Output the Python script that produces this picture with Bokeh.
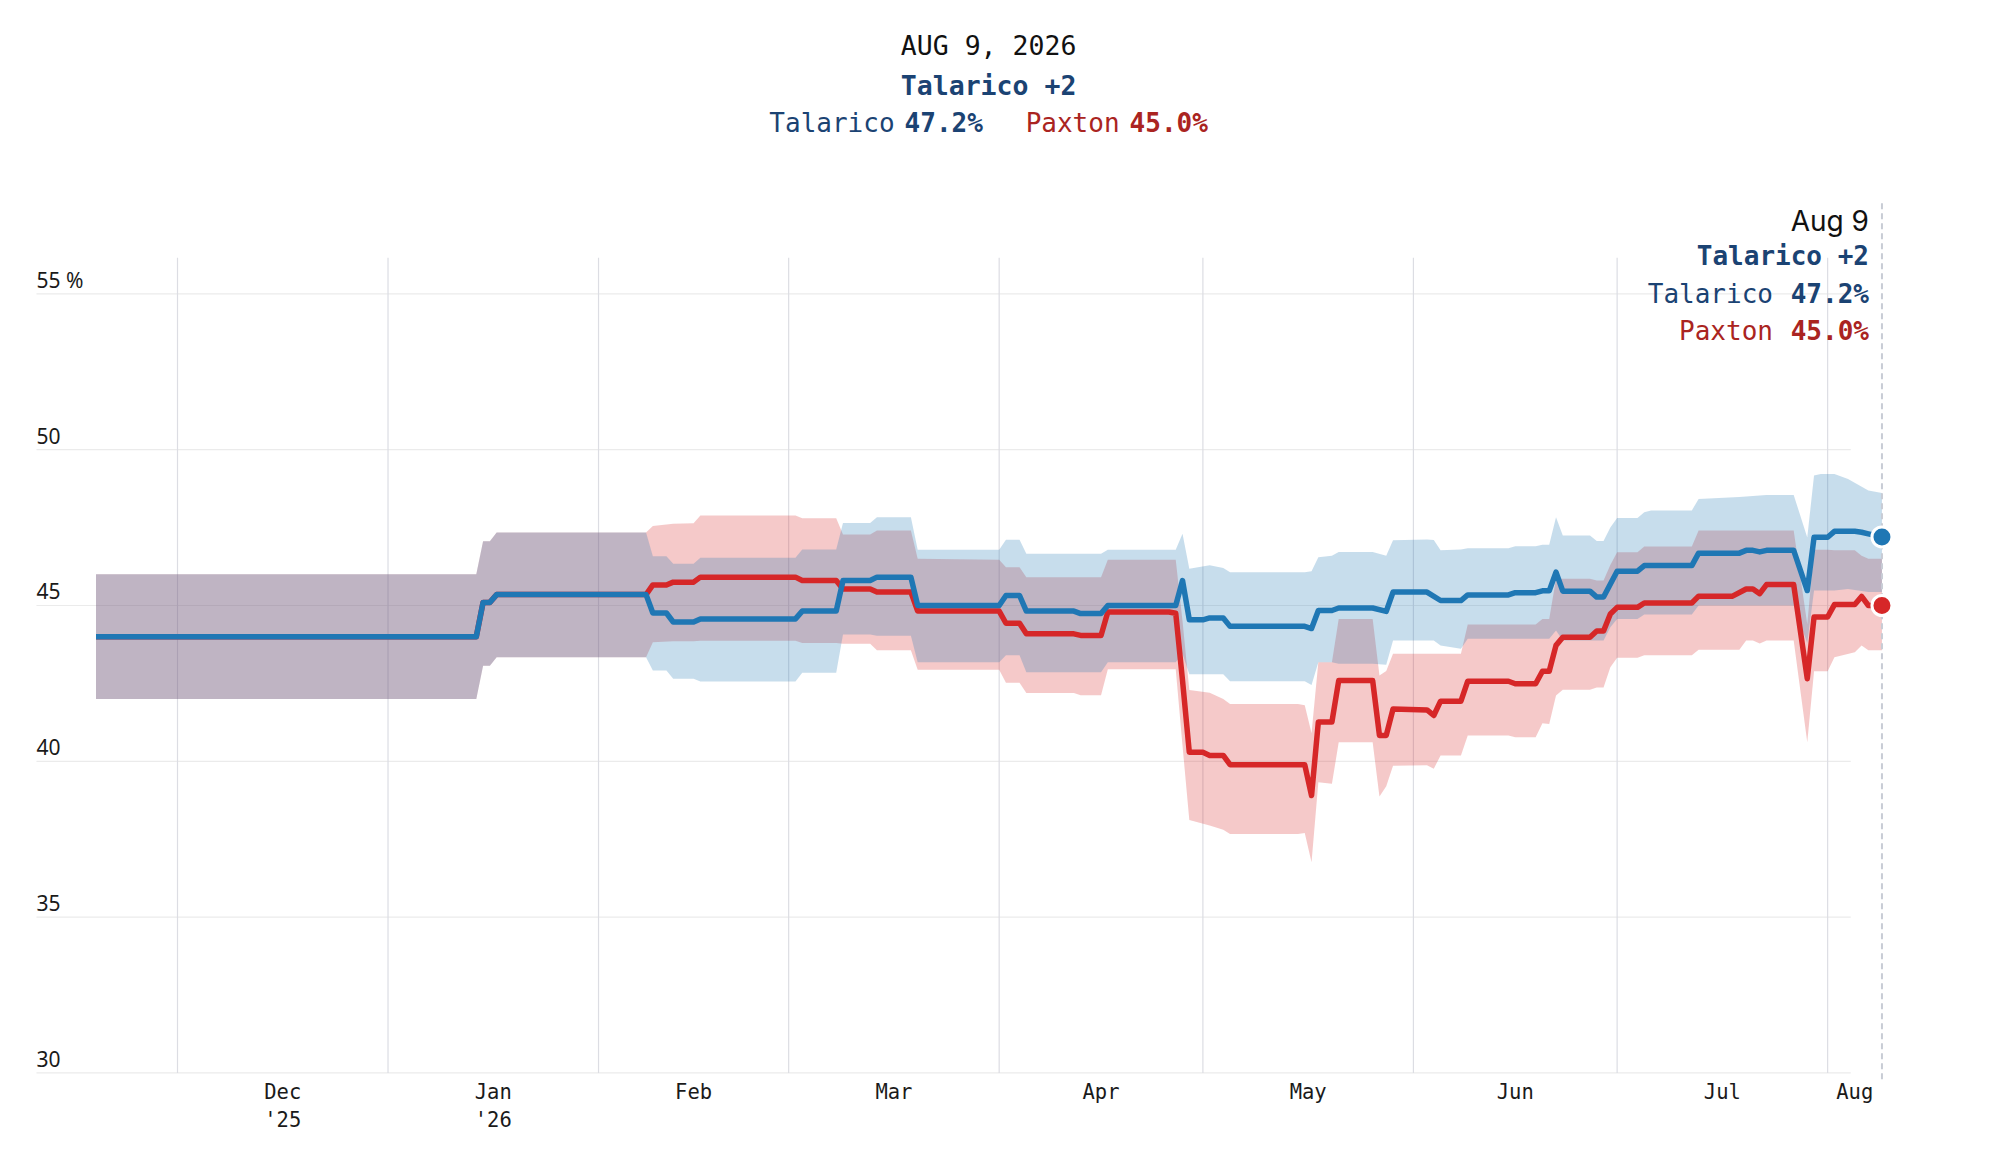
import pandas as pd
from bokeh.plotting import figure
from bokeh.models import Range1d, FixedTicker
from bokeh.core.properties import value
from bokeh.embed import file_html
from bokeh.resources import INLINE

# ---------------- data (day numbers counted from 2026-01-01) ----------------
BASE_DATE = "2026-01-01"
cand_names = ["Talarico", "Paxton"]

tal_day = [-43, 13, 14, 15, 16, 38, 39, 41, 42, 45, 46, 60, 61, 66, 67, 71, 72, 77, 78, 90,
           91, 93, 94, 101, 102, 105, 106, 116, 117, 118, 120, 121, 123, 124, 135, 136, 137,
           139, 140, 145, 147, 148, 153, 155, 158, 159, 165, 166, 169, 170, 171, 172, 173,
           177, 178, 179, 181, 184, 185, 192, 193, 199, 200, 201, 202, 203, 207, 209, 210,
           212, 213, 216, 217, 218, 219, 220]
tal_val = [44.0, 44.0, 45.1, 45.1, 45.35, 45.35, 44.76, 44.76, 44.47, 44.47, 44.57, 44.57,
           44.82, 44.82, 45.80, 45.80, 45.91, 45.91, 45.0, 45.0, 45.32, 45.32, 44.82, 44.82,
           44.74, 44.74, 45.0, 45.0, 45.8, 44.54, 44.54, 44.6, 44.6, 44.33, 44.33, 44.26,
           44.84, 44.84, 44.92, 44.92, 44.81, 45.43, 45.43, 45.16, 45.16, 45.34, 45.34, 45.41,
           45.41, 45.47, 45.47, 46.07, 45.46, 45.46, 45.27, 45.27, 46.1, 46.1, 46.28, 46.28,
           46.68, 46.68, 46.77, 46.77, 46.72, 46.77, 46.77, 45.48, 47.19, 47.19, 47.38, 47.38,
           47.35, 47.3, 47.25, 47.2]

pax_day = [-43, 13, 14, 15, 16, 38, 39, 41, 42, 45, 46, 60, 61, 66, 67, 71, 72, 77, 78, 90,
           91, 93, 94, 101, 102, 105, 106, 115, 116, 117, 118, 120, 121, 123, 124, 135, 136,
           137, 139, 140, 145, 146, 147, 148, 153, 154, 155, 158, 159, 165, 166, 169, 170,
           171, 172, 173, 177, 178, 179, 180, 181, 184, 185, 192, 193, 198, 200, 201, 202,
           203, 207, 209, 210, 212, 213, 216, 217, 218, 220]
pax_val = [44.0, 44.0, 45.1, 45.1, 45.35, 45.35, 45.66, 45.66, 45.75, 45.75, 45.91, 45.91,
           45.80, 45.80, 45.53, 45.53, 45.43, 45.43, 44.82, 44.82, 44.43, 44.43, 44.09, 44.09,
           44.04, 44.04, 44.79, 44.79, 44.75, 42.59, 40.29, 40.29, 40.19, 40.19, 39.89, 39.89,
           38.9, 41.26, 41.26, 42.59, 42.59, 40.83, 40.83, 41.68, 41.65, 41.47, 41.93, 41.93,
           42.57, 42.57, 42.49, 42.49, 42.89, 42.89, 43.72, 43.98, 43.98, 44.18, 44.18, 44.73,
           44.94, 44.94, 45.08, 45.08, 45.3, 45.3, 45.53, 45.53, 45.38, 45.67, 45.67, 42.65,
           44.63, 44.63, 45.03, 45.03, 45.29, 45.0, 45.0]

tal_band_day = [-43, 13, 14, 15, 16, 38, 39, 41, 42, 45, 46, 60, 61, 66, 67, 71, 72, 77, 78,
                90, 91, 93, 94, 105, 106, 116, 117, 118, 121, 123, 124, 135, 136, 137, 139,
                140, 145, 147, 148, 153, 154, 155, 158, 159, 165, 166, 169, 170, 171, 172,
                173, 177, 178, 179, 180, 181, 184, 185, 186, 192, 193, 199, 203, 207, 209,
                210, 211, 213, 215, 218, 220]
tal_lo = [42.0, 42.0, 43.07, 43.07, 43.34, 43.34, 42.91, 42.91, 42.65, 42.65, 42.56, 42.56,
          42.84, 42.84, 44.07, 44.07, 44.03, 44.03, 43.18, 43.18, 43.4, 43.4, 42.86, 42.86,
          43.18, 43.18, 43.45, 42.79, 42.79, 42.79, 42.57, 42.57, 42.45, 43.18, 43.18, 43.13,
          43.13, 43.1, 43.88, 43.88, 43.88, 43.72, 43.61, 43.93, 43.93, 43.93, 43.93, 43.93,
          43.93, 44.2, 43.88, 43.88, 43.88, 43.88, 44.3, 44.57, 44.57, 44.71, 44.71, 44.71,
          45.0, 45.0, 45.0, 45.0, 43.8, 45.48, 45.48, 45.48, 45.53, 45.43, 45.43]
tal_hi = [46.0, 46.0, 47.06, 47.06, 47.34, 47.34, 46.58, 46.58, 46.34, 46.34, 46.53, 46.53,
          46.8, 46.8, 47.65, 47.65, 47.83, 47.83, 46.79, 46.79, 47.11, 47.11, 46.66, 46.66,
          46.79, 46.79, 47.3, 46.18, 46.29, 46.2, 46.07, 46.07, 46.1, 46.55, 46.6, 46.72,
          46.72, 46.6, 47.09, 47.12, 47.1, 46.77, 46.8, 46.84, 46.84, 46.9, 46.9, 46.95,
          46.95, 47.83, 47.25, 47.25, 47.07, 47.07, 47.5, 47.81, 47.81, 47.99, 48.05, 48.05,
          48.42, 48.48, 48.55, 48.55, 47.18, 49.17, 49.22, 49.22, 49.06, 48.69, 48.61]

pax_band_day = [-43, 13, 14, 15, 16, 38, 39, 42, 45, 46, 60, 61, 66, 67, 71, 72, 77, 78, 90,
                91, 93, 94, 101, 102, 105, 106, 116, 117, 118, 121, 123, 124, 134, 135, 136,
                137, 139, 140, 145, 146, 147, 148, 153, 154, 155, 158, 159, 165, 166, 169,
                170, 171, 172, 173, 177, 178, 179, 180, 181, 184, 185, 192, 193, 199, 200,
                201, 202, 203, 207, 209, 210, 212, 213, 216, 217, 218, 220]
pax_lo = [42.0, 42.0, 43.07, 43.07, 43.34, 43.34, 43.82, 43.85, 43.85, 43.87, 43.87, 43.8,
          43.8, 43.77, 43.77, 43.56, 43.56, 42.94, 42.94, 42.52, 42.52, 42.19, 42.19, 42.12,
          42.12, 42.95, 42.95, 40.5, 38.12, 37.94, 37.8, 37.67, 37.67, 37.7, 36.76, 39.33,
          39.28, 40.61, 40.61, 38.87, 39.2, 39.86, 39.87, 39.76, 40.19, 40.19, 40.83, 40.83,
          40.77, 40.77, 41.22, 41.2, 42.11, 42.3, 42.3, 42.37, 42.37, 43.02, 43.32, 43.32,
          43.4, 43.4, 43.58, 43.58, 43.88, 43.88, 43.78, 43.88, 43.88, 40.61, 42.89, 42.89,
          43.34, 43.5, 43.72, 43.56, 43.56]
pax_hi = [46.0, 46.0, 47.06, 47.06, 47.34, 47.34, 47.55, 47.62, 47.64, 47.89, 47.89, 47.8,
          47.8, 47.28, 47.28, 47.41, 47.41, 46.5, 46.47, 46.23, 46.23, 45.91, 45.91, 45.91,
          45.91, 46.47, 46.47, 44.5, 42.29, 42.2, 42.0, 41.84, 41.84, 41.8, 40.9, 43.18,
          43.18, 44.57, 44.57, 42.75, 42.9, 43.45, 43.45, 43.45, 43.45, 43.45, 44.39, 44.39,
          44.39, 44.39, 44.57, 44.57, 45.86, 45.86, 45.86, 45.8, 45.8, 46.3, 46.71, 46.71,
          46.89, 46.89, 47.41, 47.41, 47.41, 47.41, 47.41, 47.41, 47.41, 44.4, 46.79, 46.79,
          46.77, 46.77, 46.6, 46.5, 46.5]

y_ticks = [30, 35, 40, 45, 50, 55]
y_tick_labels = ["30", "35", "40", "45", "50", "55 %"]
month_starts = ["2025-12-01", "2026-01-01", "2026-02-01", "2026-03-01", "2026-04-01",
                "2026-05-01", "2026-06-01", "2026-07-01", "2026-08-01"]
x_tick_dates = ["2025-12-16 12:00", "2026-01-16 12:00", "2026-02-15", "2026-03-16 12:00",
                "2026-04-16", "2026-05-16 12:00", "2026-06-16", "2026-07-16 12:00", "2026-08-05"]
x_tick_labels = ["Dec\n'25", "Jan\n'26", "Feb", "Mar", "Apr", "May", "Jun", "Jul", "Aug"]

# ---------------- helpers ----------------
base = pd.Timestamp(BASE_DATE)


def ms(ts):
    return pd.Timestamp(ts).value / 1e6


def day_ms(days):
    return [ms(base + pd.Timedelta(days=d)) for d in days]


BLUE = "#1f77b4"
RED = "#d62728"
BLUE_TXT = "#1b4373"
RED_TXT = "#aa2421"
MONO = "DejaVu Sans Mono"

x_start = ms(base + pd.Timedelta(days=-53.09))
x_end = ms(base + pd.Timedelta(days=235.1))

p = figure(width=1984, height=1144, x_axis_type="datetime", y_axis_location=None,
           x_range=Range1d(x_start, x_end), y_range=Range1d(29.756, 64.159),
           toolbar_location=None, output_backend="svg",
           min_border_left=27, min_border_right=0, min_border_top=8, min_border_bottom=64)
p.outline_line_color = None
p.xgrid.visible = False
p.ygrid.visible = False
p.background_fill_color = "white"

# x axis
tick_ms = [int(ms(t)) for t in x_tick_dates]
p.xaxis.ticker = FixedTicker(ticks=tick_ms, minor_ticks=[])
p.xaxis.major_label_overrides = {t: lab for t, lab in zip(tick_ms, x_tick_labels)}
p.xaxis.axis_line_color = None
p.xaxis.major_tick_line_color = None
p.xaxis.minor_tick_line_color = None
p.xaxis.major_label_text_font = MONO
p.xaxis.major_label_text_font_size = "20.5px"
p.xaxis.major_label_text_color = "#1a1a1a"
p.xaxis.major_label_standoff = -7

# grid lines (drawn as segments)
grid_x0 = ms(base + pd.Timedelta(days=-51.77))
grid_x1 = ms(base + pd.Timedelta(days=215.4))
p.segment(x0=[grid_x0] * len(y_ticks), x1=[grid_x1] * len(y_ticks), y0=y_ticks, y1=y_ticks,
          line_color="#ebebeb", line_width=1.2)
ms_month = [ms(m) for m in month_starts]
p.segment(x0=ms_month, x1=ms_month, y0=[30] * len(ms_month), y1=[56.16] * len(ms_month),
          line_color="#dcdde3", line_width=1.2)

# y tick labels
p.text(x=[grid_x0] * len(y_ticks), y=y_ticks, text=y_tick_labels,
       text_font=value("Noto Sans"), text_font_size="21px", text_color="#1a1a1a",
       text_align="left", text_baseline="middle", y_offset=-14)

# uncertainty bands
p.varea(x=day_ms(pax_band_day), y1=pax_lo, y2=pax_hi, fill_color=RED, fill_alpha=0.25)
p.varea(x=day_ms(tal_band_day), y1=tal_lo, y2=tal_hi, fill_color=BLUE, fill_alpha=0.25)

# vertical dashed "today" line
last_ms = day_ms([tal_day[-1]])[0]
p.segment(x0=[last_ms], x1=[last_ms], y0=[29.8], y1=[57.95], line_color="#c8ccd5",
          line_width=2, line_dash="6 4")

# lines
p.line(day_ms(pax_day), pax_val, line_color=RED, line_width=5.5, line_join="round")
p.line(day_ms(tal_day), tal_val, line_color=BLUE, line_width=5.5, line_join="round")

# end dots
p.scatter(x=[last_ms, last_ms], y=[tal_val[-1], pax_val[-1]], size=20,
          fill_color=[BLUE, RED], line_color="white", line_width=3)

# ---------------- texts ----------------
last_date = base + pd.Timedelta(days=tal_day[-1])
lead = tal_val[-1] - pax_val[-1]
leader = cand_names[0] if lead >= 0 else cand_names[1]
lead_txt = f"{leader} +{abs(lead):.0f}"
tal_txt = f"{tal_val[-1]:.1f}%"
pax_txt = f"{pax_val[-1]:.1f}%"

# header (top centre)
cx = ms(base + pd.Timedelta(days=88.44))
p.text(x=[cx], y=[62.97], text=[last_date.strftime("%b %-d, %Y").upper()],
       text_font=value(MONO), text_font_size="26.5px", text_color="#111111",
       text_align="center", text_baseline="middle")
p.text(x=[cx], y=[61.69], text=[lead_txt], text_font=value(MONO), text_font_size="26.5px",
       text_font_style="bold", text_color=BLUE_TXT, text_align="center", text_baseline="middle")
p.text(x=[cx], y=[60.50], text=[cand_names[0]], text_font=value(MONO), text_font_size="26px",
       text_color=BLUE_TXT, text_align="right", text_baseline="middle", x_offset=-94)
p.text(x=[cx], y=[60.50], text=[tal_txt], text_font=value(MONO), text_font_size="26px",
       text_font_style="bold", text_color=BLUE_TXT, text_align="left", text_baseline="middle",
       x_offset=-84)
p.text(x=[cx], y=[60.50], text=[cand_names[1]], text_font=value(MONO), text_font_size="26px",
       text_color=RED_TXT, text_align="right", text_baseline="middle", x_offset=131)
p.text(x=[cx], y=[60.50], text=[pax_txt], text_font=value(MONO), text_font_size="26px",
       text_font_style="bold", text_color=RED_TXT, text_align="left", text_baseline="middle",
       x_offset=141)

# hover-style annotation at the right end
p.text(x=[last_ms], y=[55], text=[last_date.strftime("%b %-d")], text_font=value("Inter"),
       text_font_size="28px", text_color="#111111", text_align="right",
       text_baseline="middle", x_offset=-13, y_offset=-73)
p.text(x=[last_ms], y=[55], text=[lead_txt], text_font=value(MONO), text_font_size="26px",
       text_font_style="bold", text_color=BLUE_TXT, text_align="right",
       text_baseline="middle", x_offset=-13, y_offset=-38)
p.text(x=[last_ms, last_ms], y=[55, 55], text=cand_names, text_font=value(MONO),
       text_font_size="26px", text_color=[BLUE_TXT, RED_TXT], text_align="right",
       text_baseline="middle", x_offset=-109, y_offset=[0, 37])
p.text(x=[last_ms, last_ms], y=[55, 55], text=[tal_txt, pax_txt], text_font=value(MONO),
       text_font_size="26px", text_font_style="bold", text_color=[BLUE_TXT, RED_TXT],
       text_align="right", text_baseline="middle", x_offset=-13, y_offset=[0, 37])

open("out.html", "w").write(file_html(p, INLINE))
